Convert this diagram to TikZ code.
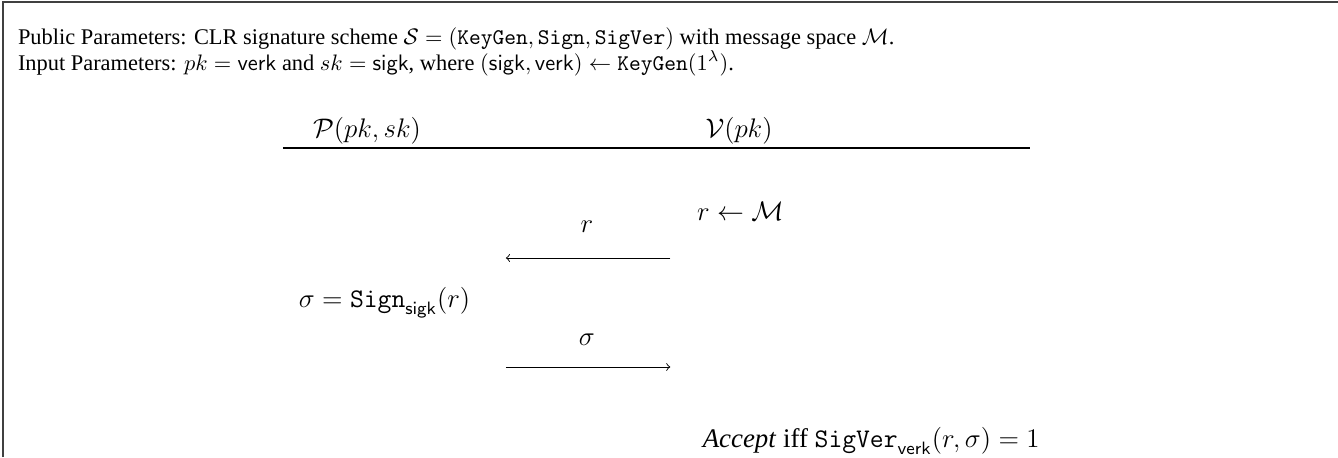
\documentclass[tikz,border=0pt]{standalone}
\usepackage[no-math]{fontspec}
\setmainfont{Liberation Serif}
\usepackage{amsmath}
\usetikzlibrary{positioning}

\begin{document}
\begin{tikzpicture}[every node/.style={inner sep=0pt, outer sep=0pt},
    proto/.style={font=\large},
    msg/.style={->, line width=0.4pt}]
    \useasboundingbox (0,0) rectangle (21,7.173);
    % Rahmen
    \draw[line width=1pt, black!75] (0.05,0) -- (0.05,7.14) -- (21,7.14);
    % Parameter
    \node[anchor=base west] (pub) at (0.283, 6.482) {Public Parameters: CLR signature scheme $\mathcal{S}=(\mathtt{KeyGen},\mathtt{Sign},\mathtt{SigVer})$ with message space $\mathcal{M}$.};
    \node[anchor=base west] (inp) at (0.283, 6.074) {Input Parameters: $pk=\mathsf{verk}$ and $sk=\mathsf{sigk}$, where $(\mathsf{sigk},\mathsf{verk})\leftarrow\mathtt{KeyGen}(1^{\lambda})$.};
    % Kopfzeile
    \node[proto, anchor=base] (prover) at (5.76, 5.02) {$\mathcal{P}(pk,sk)$};
    \node[proto, anchor=base] (verifier) at (11.6, 5.02) {$\mathcal{V}(pk)$};
    \coordinate (ruleL) at (4.44, 4.85);
    \coordinate (ruleR) at (16.17, 4.85);
    \draw[line width=0.5pt] (ruleL) -- (ruleR);
    % Nachricht r
    \node[proto, anchor=base west] (pick) at (10.94, 3.72) {$r\leftarrow\mathcal{M}$};
    \node[proto, anchor=base] (lblr) at (9.21, 3.516) {$r$};
    \coordinate (r1) at (10.52, 3.123);
    \coordinate (r0) at (7.94, 3.123);
    \draw[msg] (r1) -- (r0);
    % Signatur
    \node[proto, anchor=base east] (sign) at (7.38, 2.354) {$\sigma=\mathtt{Sign}_{\mathsf{sigk}}(r)$};
    \node[proto, anchor=base] (lbls) at (9.21, 1.758) {$\sigma$};
    \coordinate (s0) at (7.94, 1.413);
    \coordinate (s1) at (10.52, 1.413);
    \draw[msg] (s0) -- (s1);
    % Pruefung
    \node[proto, anchor=base west] (check) at (11.03, 0.157) {\textit{Accept} iff $\mathtt{SigVer}_{\mathsf{verk}}(r,\sigma)=1$};
\end{tikzpicture}
\end{document}
